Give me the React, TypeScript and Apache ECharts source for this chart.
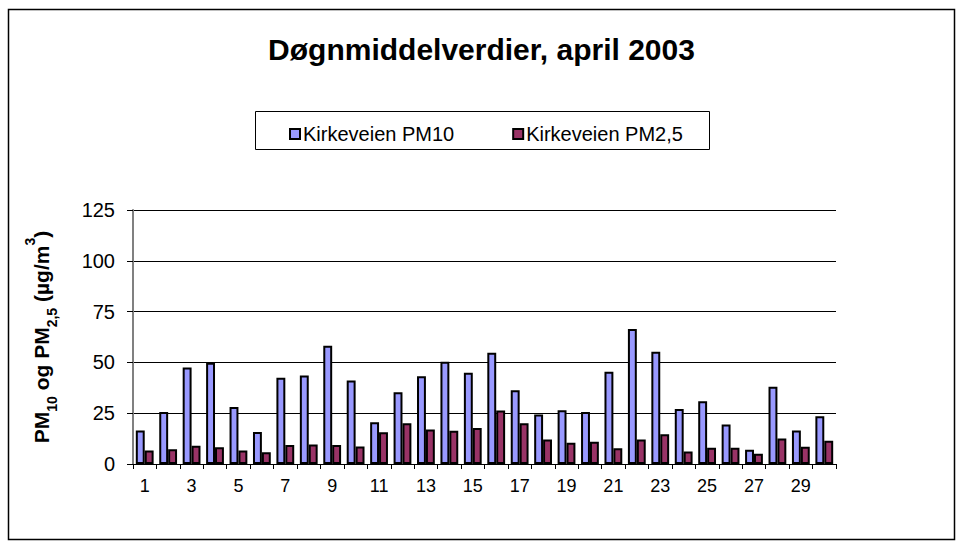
import React, { useEffect, useRef } from "react";
import * as echarts from "echarts";

const days = Array.from({ length: 30 }, (_, i) => String(i + 1));
const pm10 = [16.5, 25.6, 47.5, 49.8, 28, 15.7, 42.4, 43.6, 58.2, 41.1, 20.5, 35.3, 43.2, 50.3, 44.9, 54.8, 36.3, 24.3, 26.4, 25.6, 45.4, 66.4, 55.3, 27.1, 30.9, 19.5, 7, 38, 16.5, 23.5];
const pm25 = [6.7, 7.2, 9.0, 8.2, 6.7, 5.8, 9.3, 9.6, 9.3, 8.6, 15.6, 20.0, 17.0, 16.4, 17.7, 26.3, 20.0, 12.0, 10.5, 11.0, 7.8, 12.0, 14.6, 6.2, 8, 8, 5, 12.5, 8.5, 11.5];
const seriesNames = ["Kirkeveien PM10", "Kirkeveien PM2,5"];
const titleText = "Døgnmiddelverdier, april 2003";

const FONT = "'Liberation Sans', Arial, sans-serif";

export default function App() {
  const ref = useRef<HTMLDivElement>(null);
  useEffect(() => {
    document.body.style.margin = "0";
    const chart = echarts.init(ref.current!, null, { renderer: "svg" });
    chart.setOption({
      animation: false,
      backgroundColor: "#ffffff",
      textStyle: { fontFamily: FONT },
      title: {
        text: titleText,
        left: "center",
        top: 29,
        textStyle: { fontFamily: FONT, fontWeight: "bold", fontSize: 30, color: "#000" },
      },
      graphic: [
        {
          type: "rect",
          shape: { x: 8.5, y: 9.5, width: 946, height: 530 },
          style: { fill: "none", stroke: "#000", lineWidth: 1.5 },
          silent: true,
        },
        {
          type: "rect",
          shape: { x: 255.5, y: 111.5, width: 454, height: 38 },
          style: { fill: "none", stroke: "#000", lineWidth: 1 },
          silent: true,
        },
      ],
      legend: {
        data: seriesNames,
        left: 284,
        top: 119,
        icon: "rect",
        itemWidth: 10,
        itemHeight: 10,
        itemGap: 58,
        textStyle: { fontFamily: FONT, fontSize: 20, color: "#000", padding: [0, 0, 0, -2] },
      },
      grid: { left: 133, right: 127, top: 210, bottom: 84, containLabel: false },
      xAxis: {
        type: "category",
        data: days,
        axisLine: { lineStyle: { color: "#000", width: 1 } },
        axisTick: { show: true, interval: 0, alignWithLabel: false, length: 5, lineStyle: { color: "#000" } },
        axisLabel: { interval: 1, fontFamily: FONT, fontSize: 18, color: "#000", margin: 13 },
      },
      yAxis: {
        type: "value",
        min: 0,
        max: 125,
        interval: 25,
        name: "{b|PM}{s|10}{b| og PM}{s|2,5}{b| (µg/m}{u|3}{b|)}",
        nameLocation: "middle",
        nameRotate: 90,
        nameGap: 78,
        nameTextStyle: {
          fontFamily: FONT,
          rich: {
            b: { fontFamily: FONT, fontWeight: "bold", fontSize: 21, color: "#000", lineHeight: 28, verticalAlign: "middle" },
            s: { fontFamily: FONT, fontWeight: "bold", fontSize: 14, color: "#000", lineHeight: 28, verticalAlign: "bottom", padding: [0, 0, -4, 0] },
            u: { fontFamily: FONT, fontWeight: "bold", fontSize: 14, color: "#000", lineHeight: 28, verticalAlign: "top", padding: [-4, 0, 0, 0] },
          },
        },
        axisLine: { show: true, lineStyle: { color: "#808080", width: 2 } },
        axisTick: { show: true, length: 6, lineStyle: { color: "#000" } },
        axisLabel: { fontFamily: FONT, fontSize: 20, color: "#000", margin: 18 },
        splitLine: { show: true, lineStyle: { color: "#000", width: 1 } },
      },
      series: [
        {
          name: seriesNames[0],
          type: "bar",
          data: pm10,
          barGap: "0%",
          barCategoryGap: "24%",
          itemStyle: { color: "#9999FF", borderColor: "#000", borderWidth: 2 },
        },
        {
          name: seriesNames[1],
          type: "bar",
          data: pm25,
          barGap: "0%",
          barCategoryGap: "24%",
          itemStyle: { color: "#993366", borderColor: "#000", borderWidth: 2 },
        },
      ],
    });
    return () => chart.dispose();
  }, []);
  return <div ref={ref} style={{ width: 963, height: 548 }} />;
}
